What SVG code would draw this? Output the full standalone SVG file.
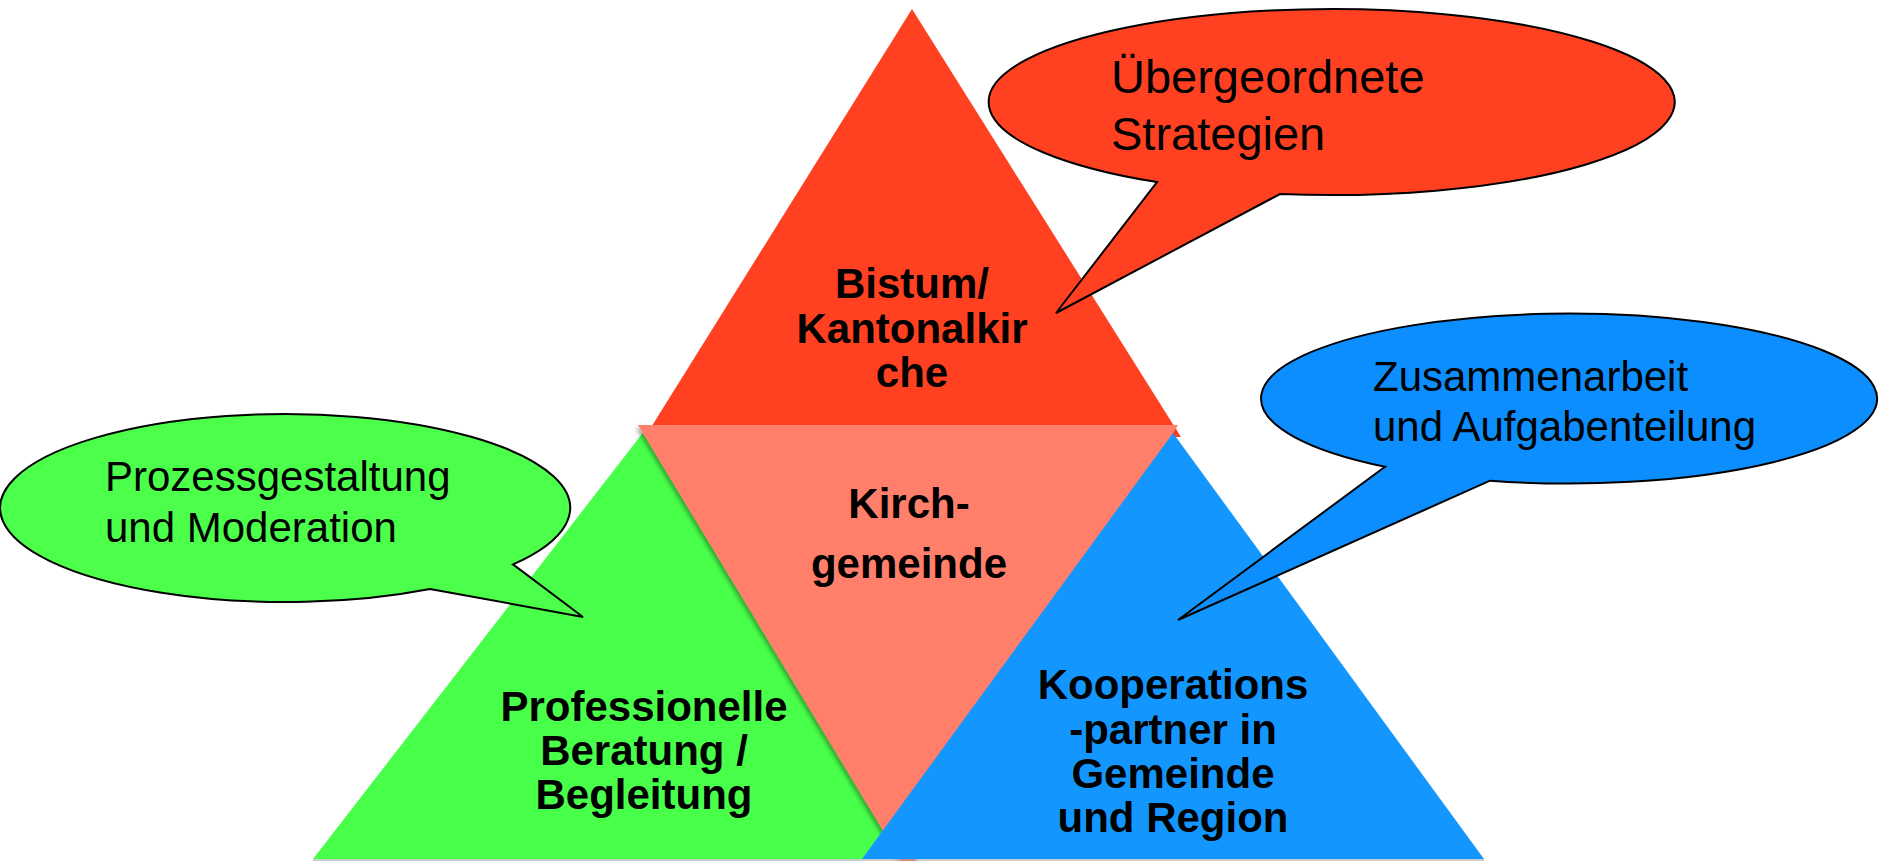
<svg xmlns="http://www.w3.org/2000/svg" width="1880" height="861" viewBox="0 0 1880 861">
  <style>
    .label { font-family: "Liberation Sans", Arial, sans-serif; font-weight: bold; font-size: 42px; fill: #000; text-anchor: middle; }
    .note { font-family: "Liberation Sans", Arial, sans-serif; font-size: 42px; fill: #000; }
    .note-lg { font-family: "Liberation Sans", Arial, sans-serif; font-size: 47px; fill: #000; }
    .bubble { stroke: #000; stroke-width: 2; stroke-linejoin: miter; }
  </style>
  <defs>
    <filter id="soft" x="-10%" y="-10%" width="120%" height="120%">
      <feDropShadow dx="-2" dy="3" stdDeviation="2" flood-color="#000" flood-opacity="0.35"/>
    </filter>
  </defs>
  <rect width="1880" height="861" fill="#fff"/>

  <!-- pyramid of four triangles -->
  <g id="bistum">
    <polygon points="912,9 645,437 1181,437" fill="#FF4122"/>
    <text class="label" x="912" y="298">Bistum/</text>
    <text class="label" x="912" y="343">Kantonalkir</text>
    <text class="label" x="912" y="387">che</text>
  </g>

  <g id="beratung">
    <polygon points="645,430 313,859 978,859" fill="#48FF4A"/>
  </g>

  <g id="kirchgemeinde">
    <polygon points="638,425 1178,425 908,872" fill="#FF7F6A" filter="url(#soft)"/>
    <text class="label" x="909" y="518">Kirch-</text>
    <text class="label" x="909" y="578">gemeinde</text>
  </g>

  <g id="kooperation">
    <polygon points="1173,433 862,859 1484,859" fill="#1496FF"/>
  </g>

  <!-- thin shadow under the base line -->
  <rect x="313" y="859" width="1171" height="2" fill="#9a9a9a" opacity="0.5"/>

  <g id="beratung-label">
    <text class="label" x="644" y="721">Professionelle</text>
    <text class="label" x="644" y="765">Beratung /</text>
    <text class="label" x="644" y="809">Begleitung</text>
  </g>

  <g id="kooperation-label">
    <text class="label" x="1173" y="699">Kooperations</text>
    <text class="label" x="1173" y="744">-partner in</text>
    <text class="label" x="1173" y="788">Gemeinde</text>
    <text class="label" x="1173" y="832">und Region</text>
  </g>

  <!-- speech bubbles -->
  <g id="connectors">
    <g id="bubble-strategien">
      <path class="bubble" fill="#FF4122" d="M1157,182.1 L1056,313 L1280,194 A343,93 0 1 0 1157,182.1 Z"/>
      <text class="note-lg" x="1111" y="93">Übergeordnete</text>
      <text class="note-lg" x="1111" y="150">Strategien</text>
    </g>
    <g id="bubble-prozess">
      <path class="bubble" fill="#4BFF4B" d="M430,588.9 L583,617 L513,564.4 A285,94 0 1 0 430,588.9 Z"/>
      <text class="note" x="105" y="491">Prozessgestaltung</text>
      <text class="note" x="105" y="542">und Moderation</text>
    </g>
    <g id="bubble-zusammenarbeit">
      <path class="bubble" fill="#0C8EFF" d="M1385,466.7 L1178,620 L1490,480.7 A308,85 0 1 0 1385,466.7 Z"/>
      <text class="note" x="1373" y="391">Zusammenarbeit</text>
      <text class="note" x="1373" y="441">und Aufgabenteilung</text>
    </g>
  </g>
</svg>
